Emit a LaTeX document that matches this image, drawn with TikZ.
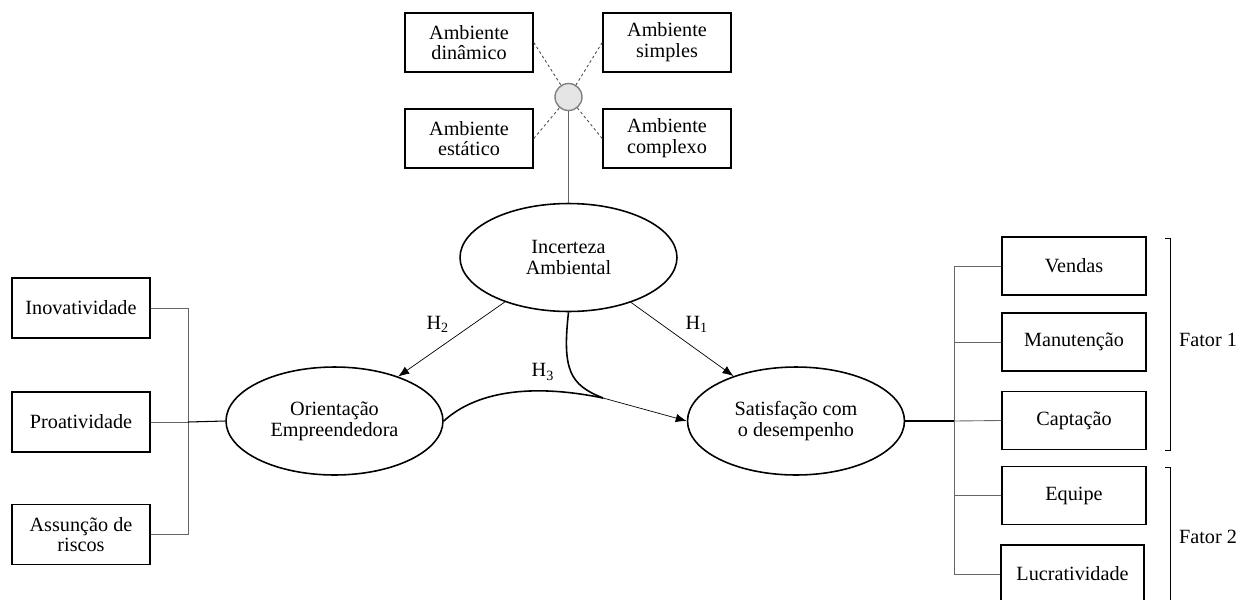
\documentclass[tikz,border=0pt]{standalone}
\usepackage{fontspec}
\setmainfont{Liberation Serif}
\usetikzlibrary{shapes.geometric,arrows.meta}

\begin{document}
\begin{tikzpicture}[x=0.02cm,y=-0.02cm,
  every node/.style={font=\fontsize{11.5pt}{11.8pt}\selectfont, align=center},
  box/.style={rectangle,draw=black,line width=0.9pt,minimum width=2.56cm,minimum height=1.18cm,inner sep=0pt},
  latent/.style={ellipse,draw=black,line width=0.9pt,minimum width=4.34cm,minimum height=2.16cm,inner sep=0pt}]

\tikzset{hyparrow/.style={-{Latex[length=2.2mm,width=1.7mm]}, line width=0.4pt},
  linkline/.style={draw=black!60, line width=0.5pt},
  dashline/.style={draw=black!70, dash pattern=on 1.5pt off 1.5pt, line width=0.5pt}}

\useasboundingbox (0,0) rectangle (1248,599);

\node[box] (dinam) at (469,42.5) {Ambiente\\dinâmico};
\node[box] (simpl) at (667,42.5) {Ambiente\\simples};
\node[box] (estat) at (469,138.5) {Ambiente\\estático};
\node[box] (compl) at (667,138.5) {Ambiente\\complexo};
\node[circle,draw=black!50,fill=black!10,line width=0.8pt,minimum size=0.54cm,inner sep=0pt] (amb) at (568.5,97) {};

\node[latent] (incert) at (568.5,257.5) {Incerteza\\Ambiental};
\node[latent] (orient) at (334.5,421) {Orientação\\Empreendedora};
\node[latent] (satis) at (796,421) {Satisfação com\\o desempenho};

\node[box,minimum width=2.76cm,minimum height=1.2cm] (inov) at (81,308) {Inovatividade};
\node[box,minimum width=2.76cm,minimum height=1.2cm] (proa) at (81,422) {Proatividade};
\node[box,minimum width=2.76cm,minimum height=1.2cm] (assun) at (81,534.5) {Assunção de\\riscos};

\node[box,minimum width=2.88cm,minimum height=1.16cm] (vend) at (1074,266) {Vendas};
\node[box,minimum width=2.88cm,minimum height=1.16cm] (manu) at (1074,342) {Manutenção};
\node[box,minimum width=2.88cm,minimum height=1.16cm] (capt) at (1074,420.5) {Captação};
\node[box,minimum width=2.88cm,minimum height=1.16cm] (equi) at (1074,495.5) {Equipe};
\node[box,minimum width=2.86cm,minimum height=1.16cm] (lucr) at (1072.5,574) {Lucratividade};

\node (fat1) at (1208,340) {Fator 1};
\node (fat2) at (1208,537) {Fator 2};

\draw[dashline] (dinam.east) -- (amb);
\draw[dashline] (simpl.west) -- (amb);
\draw[dashline] (estat.east) -- (amb);
\draw[dashline] (compl.west) -- (amb);
\draw[linkline] (amb) -- (incert);

\coordinate (lbus) at (188,422);
\draw[linkline] (inov.east) -| (lbus);
\draw[linkline] (assun.east) -| (lbus);
\draw[linkline] (proa.east) -- (lbus);
\draw[line width=0.6pt] (lbus) -- (orient.west);

\coordinate (rbus) at (954,421);
\draw[line width=0.6pt] (satis.east) -- (rbus);
\draw[linkline] (vend.west) -| (rbus);
\draw[linkline] (lucr.west) -| (rbus);
\draw[linkline] (manu.west) -- (manu.west -| rbus);
\draw[linkline] (capt.west) -- (rbus);
\draw[linkline] (equi.west) -- (equi.west -| rbus);

\draw[line width=0.5pt] (1165,238) -- (1170,238) -- (1170,450) -- (1165,450);
\draw[line width=0.5pt] (1165,467) -- (1170,467) -- (1170,620);

\draw[hyparrow] (incert) -- node[pos=0.3,left=10pt] {H\textsubscript{2}} (orient);
\draw[hyparrow] (incert) -- node[pos=0.3,right=10pt] {H\textsubscript{1}} (satis);

\coordinate (modr) at (603,398);
\draw[line width=0.9pt] (orient.east) .. controls (480,388) and (540,385) .. (modr);
\draw[line width=0.9pt] (incert.south) .. controls (562,370) and (570,385) .. (modr);
\draw[hyparrow] (modr) -- (satis.west);
\node (h3) at (543,372) {H\textsubscript{3}};

\end{tikzpicture}
\end{document}
